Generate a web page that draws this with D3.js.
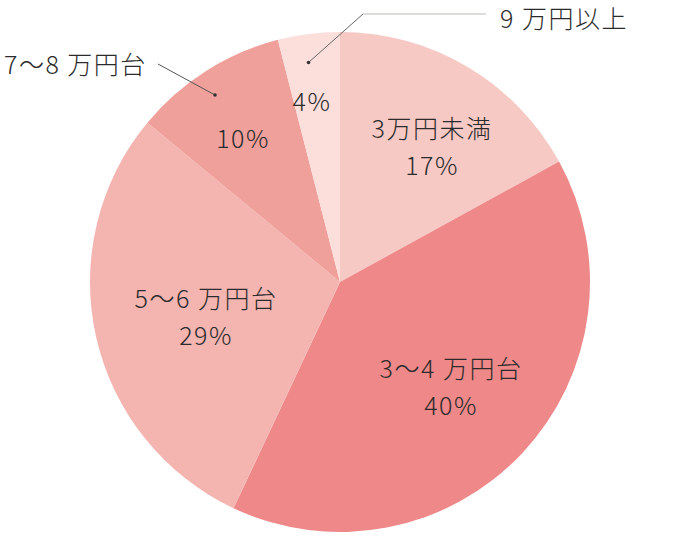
<!DOCTYPE html>
<html><head><meta charset="utf-8">
<script src="https://cdn.jsdelivr.net/npm/d3@7"></script>
<style>body{margin:0;background:#fff}svg{display:block}text{font-family:"Noto Sans CJK JP","Noto Sans",sans-serif;font-weight:300;fill:#2b2b2b;letter-spacing:1.5px}</style>
</head><body>
<svg id="c" width="680" height="540"></svg>
<script>
const categories = ["3万円未満","3〜4万円台","5〜6万円台","7〜8万円台","9万円以上"];
const values = [17, 40, 29, 10, 4];
const colors = ["#f7c9c5","#ef8888","#f4b5b1","#f0a09b","#fcdedb"];

const svg = d3.select("#c");
const cx = 340, cy = 282, R = 250;
const g = svg.append("g").attr("transform", `translate(${cx},${cy})`);
const pie = d3.pie().sort(null).value(d => d)(values);
const arc = d3.arc().innerRadius(0).outerRadius(R);
g.selectAll("path").data(pie).join("path")
  .attr("d", arc).attr("fill", (d,i) => colors[i]);

const FS = 25;
// write a label; a gap is put before 万 when a range/digit precedes it
function label(x, y, str, anchor) {
  const t = svg.append("text").attr("x", x).attr("y", y).attr("text-anchor", anchor)
    .attr("dominant-baseline","central").attr("font-size", FS);
  const k = str.indexOf("万");
  if (k > 0 && str.length && /[〜]/.test(str) || (k > 0 && str[0] === "9")) {
    t.append("tspan").text(str.slice(0, k));
    t.append("tspan").attr("dx", 7).text(str.slice(k));
  } else {
    t.text(str);
  }
  return t;
}

const custom = {0:[432,127],1:[451,367],2:[206,297],3:[243,137],4:[312,100]};
pie.forEach((d,i) => {
  const [x,y] = custom[i];
  if (i < 3) {
    label(x, y, categories[i], "middle");
    label(x, y+37, values[i] + "%", "middle");
  } else {
    label(x, y, values[i] + "%", "middle");
  }
});

// outside labels with leaders
label(4, 63, categories[3], "start");
svg.append("line").attr("x1",158).attr("y1",64).attr("x2",215).attr("y2",95)
  .attr("stroke","#555").attr("stroke-width",1);
svg.append("circle").attr("cx",215).attr("cy",95).attr("r",1.8).attr("fill","#333");

label(500, 17, categories[4], "start");
svg.append("line").attr("x1",308.5).attr("y1",62.5).attr("x2",363).attr("y2",14)
  .attr("stroke","#666").attr("stroke-width",1);
svg.append("line").attr("x1",363).attr("y1",14).attr("x2",486).attr("y2",14)
  .attr("stroke","#bdb8b8").attr("stroke-width",1.2);
svg.append("circle").attr("cx",308.5).attr("cy",62.5).attr("r",1.8).attr("fill","#333");
</script>
</body></html>
